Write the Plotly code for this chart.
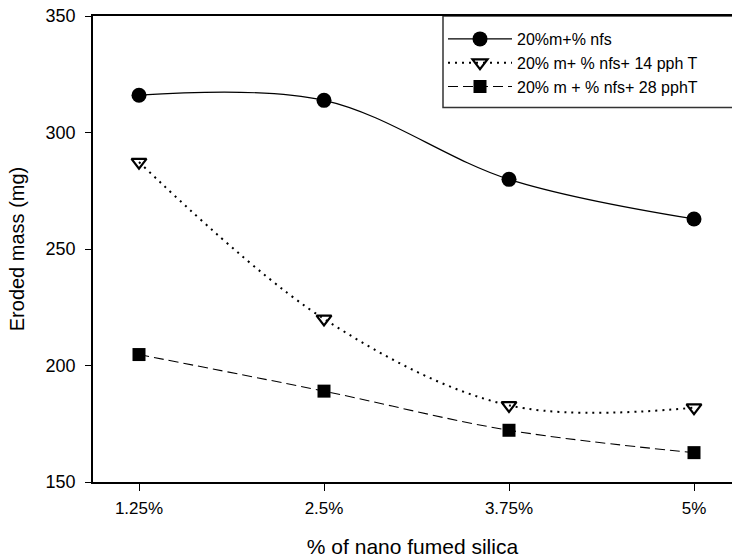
import plotly.graph_objects as go

x_vals = [1.25, 2.5, 3.75, 5.0]
x_labels = ["1.25%", "2.5%", "3.75%", "5%"]
y_ticks = [150, 200, 250, 300, 350]

names = ["20%m+% nfs", "20% m+ % nfs+ 14 pph T", "20% m + % nfs+ 28 pphT"]
s1 = [316.0, 313.8, 279.9, 262.9]
s2 = [287.3, 220.0, 182.9, 181.9]
s3 = [204.7, 189.0, 172.2, 162.6]

W, H = 732, 558
L, R, T, B = 93, 0, 16, 76

fig = go.Figure()
fig.add_trace(go.Scatter(
    x=x_vals, y=s1, name=names[0], mode="lines+markers",
    line=dict(color="black", width=1.2, shape="spline", smoothing=1.0),
    marker=dict(symbol="circle", size=15, color="black"),
))
fig.add_trace(go.Scatter(
    x=x_vals, y=s2, name=names[1], mode="lines+markers",
    line=dict(color="black", width=2, dash="2px,5px", shape="spline", smoothing=1.0),
    marker=dict(symbol="triangle-down-open", size=13, color="black", line=dict(width=2.2, color="black")),
))
fig.add_trace(go.Scatter(
    x=x_vals, y=s3, name=names[2], mode="lines+markers",
    line=dict(color="black", width=1.1, dash="10px,5px", shape="spline", smoothing=1.0),
    marker=dict(symbol="square", size=13, color="black"),
))

font = "Liberation Sans, Arial, sans-serif"
pw = W - L - R
ph = H - T - B
dx = 1.25 / 185.0
x0 = 1.25 - (139 - L) * dx
x1 = x0 + pw * dx

lx = (443 - L) / pw
fig.add_shape(type="rect", xref="paper", yref="paper",
              x0=lx, x1=1.3, y0=1 - (107.5 - T) / ph, y1=1.0,
              line=dict(color="#333333", width=1.5), fillcolor="white", layer="below")

fig.update_layout(
    width=W, height=H,
    margin=dict(l=L, r=R, t=T, b=B, pad=0),
    paper_bgcolor="white", plot_bgcolor="white",
    font=dict(family=font, size=17, color="black"),
    showlegend=True,
    legend=dict(
        x=lx, y=1 - 6 / ph, xanchor="left", yanchor="top",
        bgcolor="rgba(0,0,0,0)", borderwidth=0,
        font=dict(family=font, size=16, color="black"),
        itemwidth=64, tracegroupgap=0,
    ),
    xaxis=dict(
        range=[x0, x1], tickmode="array", tickvals=x_vals, ticktext=x_labels,
        showgrid=False, zeroline=False, showline=True, linecolor="black", linewidth=1.5,
        mirror=True, ticks="outside", ticklen=7, tickwidth=1.2, tickcolor="black",
        title=dict(text="% of nano fumed silica", font=dict(family=font, size=21), standoff=24),
        tickfont=dict(family=font, size=17), ticklabelstandoff=3,
    ),
    yaxis=dict(
        range=[150, 350], tickmode="array", tickvals=y_ticks,
        showgrid=False, zeroline=False, showline=True, linecolor="black", linewidth=1.5,
        mirror=False, ticks="outside", ticklen=6, tickwidth=1.2, tickcolor="black",
        title=dict(text="Eroded mass (mg)", font=dict(family=font, size=20), standoff=16),
        tickfont=dict(family=font, size=18), ticklabelstandoff=6,
    ),
)

fig.write_html(
    "out.html",
    config={"displayModeBar": False},
    post_script="document.body.style.margin='0px';document.body.style.overflow='hidden';",
)
